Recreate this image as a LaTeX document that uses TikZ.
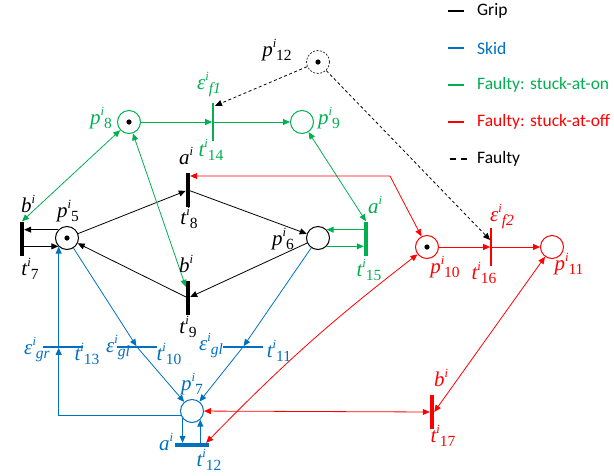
\documentclass[tikz,border=0pt]{standalone}
\usepackage{fontspec}
\setmainfont{Liberation Serif}
\newfontfamily\legfont{Carlito}
\usetikzlibrary{arrows.meta,calc}
\definecolor{pgreen}{RGB}{0,176,80}
\definecolor{pblue}{RGB}{0,112,192}
\definecolor{pred}{RGB}{255,0,0}
\newcommand\PL[3]{{\fontsize{21}{21}\selectfont\itshape #1}\raisebox{8.5pt}{\fontsize{12.5}{12.5}\selectfont\itshape #2}\raisebox{-4.5pt}{\fontsize{15.5}{15.5}\selectfont #3}}
\begin{document}
\begin{tikzpicture}[x=1pt,y=-1pt,
  place/.style={circle,draw,line width=1pt,minimum size=23pt,inner sep=0pt},
  tbar/.style={rectangle,fill,inner sep=0pt,minimum width=4pt,minimum height=34pt},
  vbar/.style={rectangle,fill,inner sep=0pt,minimum width=1.3pt,minimum height=38pt},
  hbar/.style={rectangle,fill,inner sep=0pt,minimum width=40pt,minimum height=1.3pt},
  hthick/.style={rectangle,fill,inner sep=0pt,minimum width=34pt,minimum height=4pt},
  arc/.style={line width=0.8pt,-{Triangle[length=7pt,width=6pt]}},
  barc/.style={line width=0.8pt,{Triangle[length=7pt,width=6pt]}-{Triangle[length=7pt,width=6pt]}},
  darc/.style={line width=0.8pt,dash pattern=on 3pt off 2.5pt,-{Triangle[length=7pt,width=6pt]}},
  lab/.style={inner sep=0pt,anchor=center},
  leg/.style={anchor=west,inner sep=0pt,font=\legfont\fontsize{17.5}{17.5}\selectfont},
  legline/.style={line width=2pt}]
\useasboundingbox (0,0) rectangle (614,475);
% places
\node[place] (p5) at (67,238) {};
\node[place] (p6) at (318,238) {};
\node[place,draw=pblue] (p7) at (192,411) {};
\node[place,draw=pgreen] (p8) at (129,122) {};
\node[place,draw=pgreen] (p9) at (302,122) {};
\node[place,draw=pred] (p10) at (427,247) {};
\node[place,draw=pred] (p11) at (552,247) {};
\node[place,line width=0.8pt,dash pattern=on 2pt off 1.5pt,draw=black!80] (p12) at (318,62) {};
\fill (p5) circle (2.6pt);
\fill (p8) circle (2.6pt);
\fill (p10) circle (2.6pt);
\fill (p12) circle (2.6pt);
% transitions
\node[tbar] (t7) at (22,238.5) {};
\node[tbar] (t8) at (188,190) {};
\node[tbar] (t9) at (188,298) {};
\node[vbar,fill=pgreen] (t14) at (213,122) {};
\node[tbar,fill=pgreen] (t15) at (366,238.5) {};
\node[vbar,fill=pred] (t16) at (491,247) {};
\node[tbar,fill=pred] (t17) at (432,412) {};
\node[hthick,fill=pblue] (t12) at (192,445) {};
\node[hbar,fill=pblue] (t13) at (63,347) {};
\node[hbar,fill=pblue] (t10) at (137,347) {};
\node[hbar,fill=pblue] (t11) at (243,347) {};
% black arcs
\draw[arc] (p5.136) -- (p5.136 -| t7.east);
\draw[arc] (p5.224 -| t7.east) -- (p5.224);
\draw[arc] (p5) -- (t8);
\draw[arc] (t8) -- (p6);
\draw[arc] (p6) -- (t9);
\draw[arc] (t9) -- (p5);
% green arcs
\draw[barc,pgreen] (p8) -- (t7.north);
\draw[barc,pgreen] (p8) -- ($(t9.north west)+(0,6)$);
\draw[arc,pgreen] (p8) -- (t14);
\draw[arc,pgreen] (t14) -- (p9);
\draw[barc,pgreen] (p9) -- (t15.north);
\draw[arc,pgreen] (t15.west |- p6.44) -- (p6.44);
\draw[arc,pgreen] (p6.-44) -- (p6.-44 -| t15.west);
% dashed arcs
\draw[darc] (p12) -- ($(t14.north)+(2,3)$);
\draw[darc] (p12) -- ($(t16.west)+(0,-7)$);
% red arcs
\coordinate (c1) at (390,176);
\draw[barc,pred] (t8.east |- c1) -- (c1) -- (p10);
\draw[arc,pred] (p10) -- (t16);
\draw[arc,pred] (t16) -- (p11);
\draw[barc,pred] ($(t12.north east)+(-3,0)$) to[bend left=4] (p10);
\draw[barc,pred] (p11) -- (t17.east);
\draw[barc,pred] (p7) -- (t17);
% blue arcs
\draw[arc,pblue] (p5) -- (t10);
\draw[arc,pblue] (t10) -- (p7);
\draw[arc,pblue] (p6) -- (t11);
\draw[arc,pblue] (t11) -- (p7);
\draw[arc,pblue] (p7.218) -- (p7.218 |- t12.north);
\draw[arc,pblue] (p7.314 |- t12.north) -- (p7.314);
\coordinate (c2) at (p5.226 |- p7.200);
\draw[arc,pblue] (p7.200) -- (c2) -- (c2 |- t13.south);
\draw[arc,pblue] (c2 |- t13.north) -- (p5.226);
% labels
\node[lab] (Lp5) at (68,211) {\PL{p}{i}{5}};
\node[lab] (Lb7) at (28,206) {\PL{b}{i}{}};
\node[lab] (Lt7) at (30,269) {\PL{t}{i}{7}};
\node[lab] (La8) at (186,158) {\PL{a}{i}{}};
\node[lab] (Lt8) at (189,218) {\PL{t}{i}{8}};
\node[lab] (Lb9) at (186,266) {\PL{b}{i}{}};
\node[lab] (Lt9) at (188,327) {\PL{t}{i}{9}};
\node[lab] (Lp6) at (283,239) {\PL{p}{i}{6}};
\node[lab,pblue] (Lp7) at (192,384) {\PL{p}{i}{7}};
\node[lab,pblue] (La12) at (166,444) {\PL{a}{i}{}};
\node[lab,pblue] (Lt12) at (209,460) {\PL{t}{i}{12}};
\node[lab,pblue] (Lgr) at (37,350) {\PL{ε}{i}{\itshape gr}};
\node[lab,pblue] (Lt13) at (87,354) {\PL{t}{i}{13}};
\node[lab,pblue] (Lgl10) at (118,348) {\PL{ε}{i}{\itshape gl}};
\node[lab,pblue] (Lt10) at (169,354) {\PL{t}{i}{10}};
\node[lab,pblue] (Lgl11) at (211,346) {\PL{ε}{i}{\itshape gl}};
\node[lab,pblue] (Lt11) at (279,351) {\PL{t}{i}{11}};
\node[lab,pgreen] (Lp8) at (101,118) {\PL{p}{i}{8}};
\node[lab,pgreen] (Lf1) at (209,85) {\PL{ε}{i}{\itshape f1}};
\node[lab,pgreen] (Lt14) at (211,150) {\PL{t}{i}{14}};
\node[lab,pgreen] (Lp9) at (329,118) {\PL{p}{i}{9}};
\node[lab] (Lp12) at (277,50) {\PL{p}{i}{12}};
\node[lab,pgreen] (La15) at (375,207) {\PL{a}{i}{}};
\node[lab,pgreen] (Lt15) at (369,270) {\PL{t}{i}{15}};
\node[lab,pred] (Lp10) at (445,267) {\PL{p}{i}{10}};
\node[lab,pred] (Lf2) at (502,217) {\PL{ε}{i}{\itshape f2}};
\node[lab,pred] (Lt16) at (484,273) {\PL{t}{i}{16}};
\node[lab,pred] (Lp11) at (569,264) {\PL{p}{i}{11}};
\node[lab,pred] (Lb17) at (441,380) {\PL{b}{i}{}};
\node[lab,pred] (Lt17) at (443,436) {\PL{t}{i}{17}};
% legend
\draw[legline] (448,11) -- (464,11);
\node[leg] (lg1) at (477,11) {Grip};
\draw[legline,pblue] (448,48) -- (464,48);
\node[leg,pblue] (lg2) at (477,48) {Skid};
\draw[legline,pgreen] (448,85) -- (464,85);
\node[leg,pgreen] (lg3) at (477,85) {Faulty: stuck-at-on};
\draw[legline,pred] (448,122) -- (464,122);
\node[leg,pred] (lg4) at (477,122) {Faulty: stuck-at-off};
\draw[legline,dash pattern=on 6pt off 5pt] (450,159) -- (468,159);
\node[leg] (lg5) at (477,159) {Faulty};
\end{tikzpicture}
\end{document}
